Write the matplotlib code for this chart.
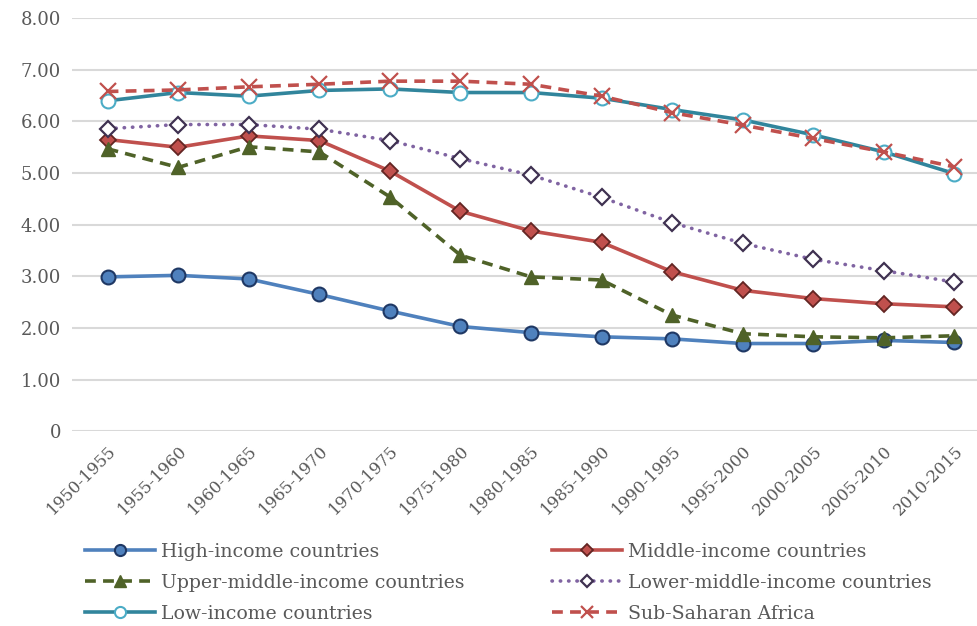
import matplotlib.pyplot as plt

periods = ["1950-1955", "1955-1960", "1960-1965", "1965-1970", "1970-1975",
           "1975-1980", "1980-1985", "1985-1990", "1990-1995", "1995-2000",
           "2000-2005", "2005-2010", "2010-2015"]

high_income = [2.99, 3.02, 2.95, 2.65, 2.33, 2.03, 1.91, 1.83, 1.79, 1.70, 1.70, 1.76, 1.72]
middle_income = [5.65, 5.50, 5.72, 5.63, 5.04, 4.26, 3.88, 3.66, 3.09, 2.73, 2.57, 2.47, 2.41]
upper_middle = [5.47, 5.11, 5.51, 5.41, 4.54, 3.41, 2.99, 2.93, 2.25, 1.89, 1.83, 1.81, 1.85]
lower_middle = [5.86, 5.94, 5.94, 5.85, 5.63, 5.28, 4.96, 4.53, 4.04, 3.64, 3.33, 3.11, 2.89]
low_income = [6.40, 6.56, 6.49, 6.60, 6.63, 6.56, 6.56, 6.45, 6.23, 6.03, 5.74, 5.41, 4.99]
sub_saharan = [6.58, 6.61, 6.67, 6.72, 6.78, 6.78, 6.72, 6.49, 6.17, 5.93, 5.67, 5.41, 5.12]

plt.rcParams['font.family'] = ['DejaVu Serif']

fig = plt.figure(figsize=(9.77, 6.26), dpi=100)
ax = fig.add_axes([0.074, 0.311, 0.939, 0.66])

x = list(range(len(periods)))
lw = 2.6
ms = 10

styles = [
    ("High-income countries", high_income,
     dict(color="#4F81BD", ls="-", marker="o", mfc="#4F81BD", mec="#1F3864", ms=ms, mew=1.5)),
    ("Middle-income countries", middle_income,
     dict(color="#C0504D", ls="-", marker="D", mfc="#C0504D", mec="#632523", ms=8, mew=1.3)),
    ("Upper-middle-income countries", upper_middle,
     dict(color="#4F6228", ls=(0, (3, 2)), marker="^", mfc="#4F6228", mec="#4F6228", ms=ms, mew=1)),
    ("Lower-middle-income countries", lower_middle,
     dict(color="#8064A2", ls=(0, (0.1, 2.2)), dash_capstyle="round", marker="D", mfc="white",
          mec="#3F3151", ms=8, mew=1.6)),
    ("Low-income countries", low_income,
     dict(color="#31859C", ls="-", marker="o", mfc="white", mec="#4BACC6", ms=ms, mew=1.5)),
    ("Sub-Saharan Africa", sub_saharan,
     dict(color="#C0504D", ls=(0, (3, 2)), marker="x", mfc="#C0504D", mec="#C0504D", ms=11, mew=1.6)),
]

handles = {}
for name, vals, st in styles:
    line, = ax.plot(x, vals, lw=lw, label=name, **st)
    handles[name] = line

ax.set_xlim(-0.5, len(periods) - 0.5)
ax.set_ylim(0, 8)
ax.set_yticks(range(0, 9))
ax.set_yticklabels(["0"] + ["%.2f" % v for v in range(1, 9)], fontsize=13, color="#595959")
ax.set_xticks(x)
ax.set_xticklabels(periods, rotation=45, ha="right", rotation_mode="anchor",
                   fontsize=12, color="#595959")
ax.tick_params(length=0, pad=8)
ax.grid(axis="y", color="#d9d9d9", lw=1.5)
ax.set_axisbelow(True)
for s in ax.spines.values():
    s.set_visible(False)

leg_kw = dict(frameon=False, fontsize=13.6, handlelength=3.7, labelspacing=0.68,
              handletextpad=0.3, labelcolor="#595959", markerscale=0.8)
left_names = ["High-income countries", "Upper-middle-income countries", "Low-income countries"]
right_names = ["Middle-income countries", "Lower-middle-income countries", "Sub-Saharan Africa"]
leg1 = fig.legend([handles[n] for n in left_names], left_names,
                  loc="upper left", bbox_to_anchor=(0.07, 0.16), **leg_kw)
leg2 = fig.legend([handles[n] for n in right_names], right_names,
                  loc="upper left", bbox_to_anchor=(0.548, 0.16), **leg_kw)
for leg in (leg1, leg2):
    for h in leg.legend_handles:
        h.set_markevery([1])

fig.savefig("out.png", dpi=100)
